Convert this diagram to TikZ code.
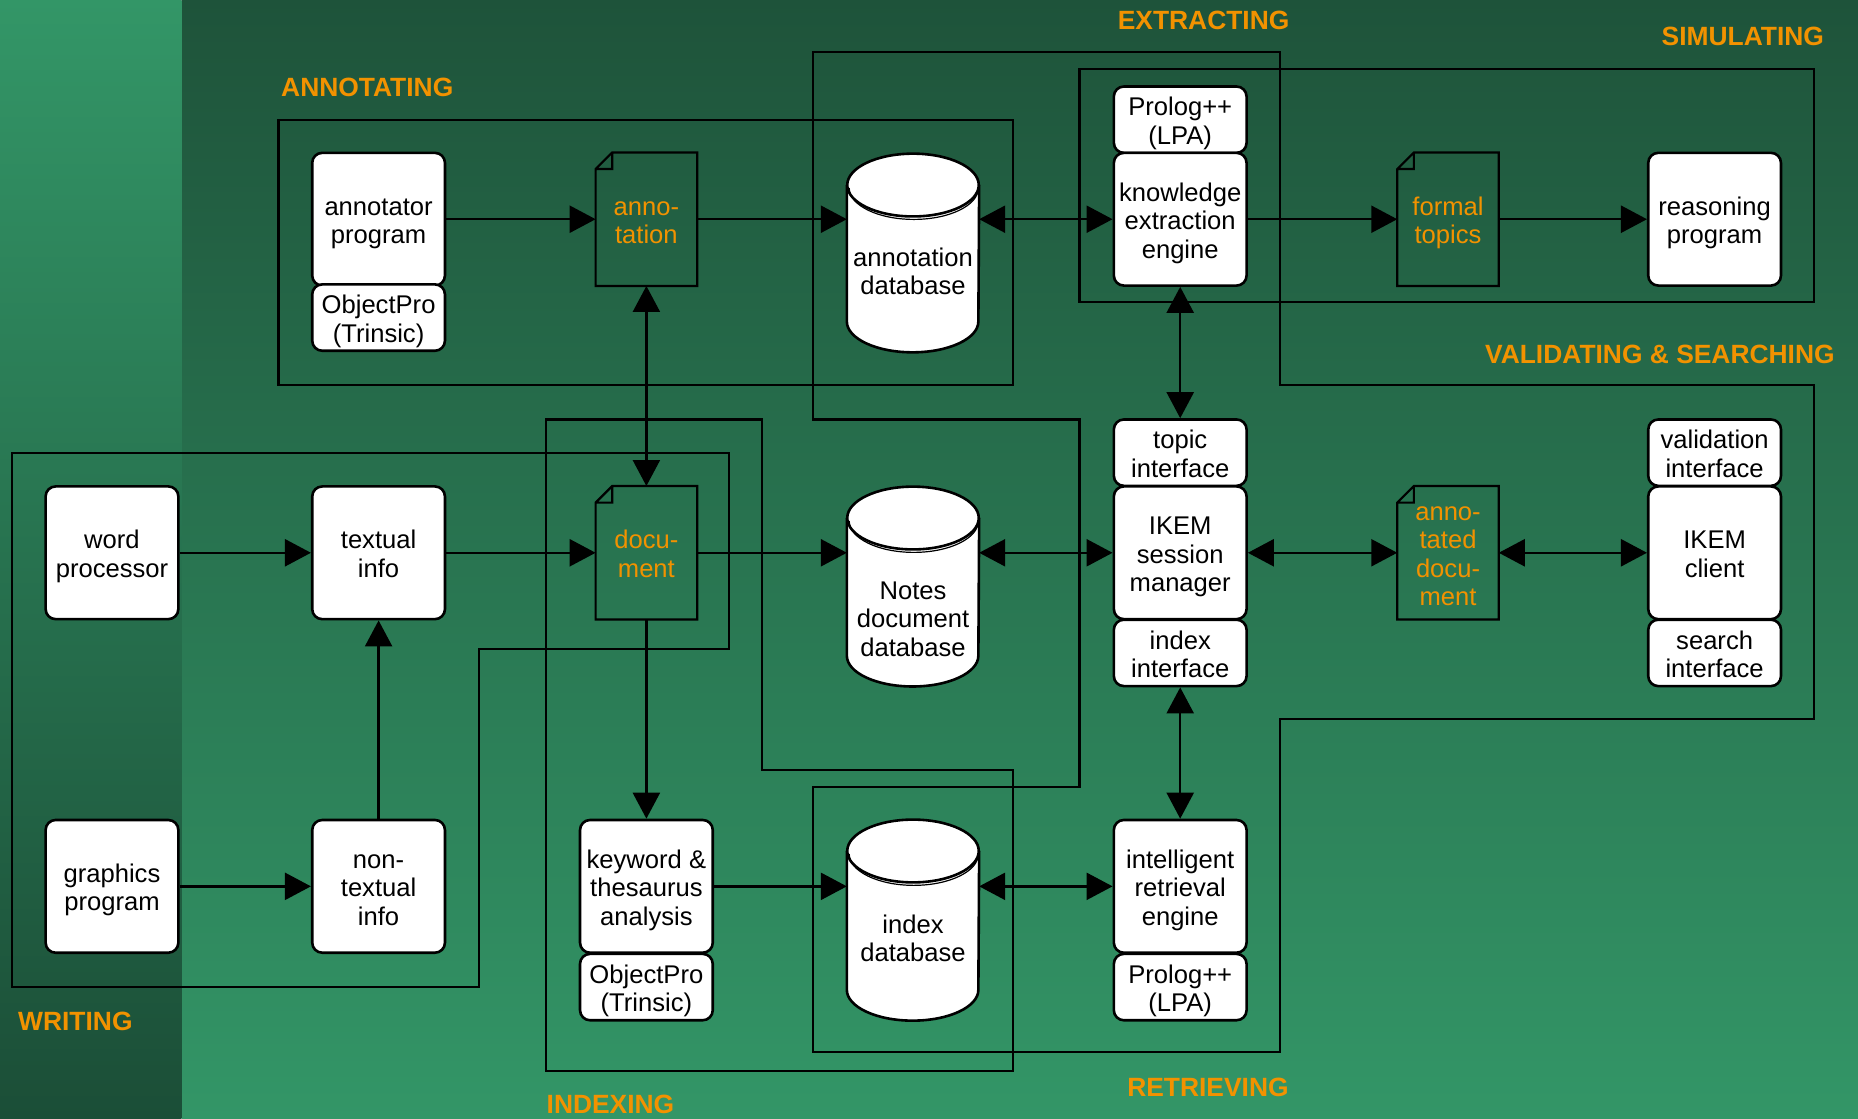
\documentclass[tikz,border=0pt]{standalone}
\usepackage{fontspec}
\setmainfont{Liberation Sans}
\usetikzlibrary{arrows.meta,calc}
\definecolor{bgdark}{RGB}{30,83,58}
\definecolor{bglight}{RGB}{51,150,103}
\definecolor{stripdark}{RGB}{27,78,55}
\definecolor{phaseorange}{RGB}{242,146,0}
\newcommand\pxu{0.5925pt}
\newcommand\bodyfont{\fontsize{12.8}{14.2}\selectfont}
\newcommand\fl{\rule{0pt}{10.4pt}}
\newcommand\drawcyl[1]{%
  \fill[white] ($(#1.north west)+(0,26.5)$) -- ($(#1.south west)+(0,-26)$)
     arc[start angle=180,end angle=0,x radius=55.5,y radius=26] -- ($(#1.north east)+(0,26.5)$) -- cycle;
  \draw[boxline] ($(#1.north west)+(0,26.5)$) -- ($(#1.south west)+(0,-26)$)
     arc[start angle=180,end angle=0,x radius=55.5,y radius=26] -- ($(#1.north east)+(0,26.5)$);
  \draw[boxline,fill=white] ($(#1.north)+(0,26.5)$) ellipse[x radius=55.5,y radius=26.5];
  \draw[line width=0.6pt] ($(#1.north west)+(2,29)$) arc[start angle=180,end angle=0,x radius=54.5,y radius=26.5];
}
\newcommand\drawdoc[1]{%
  \draw[docline] ($(#1.north west)+(0,14)$) -- ($(#1.north west)+(14,0)$) -- (#1.north east)
     -- (#1.south east) -- (#1.south west) -- cycle
     ($(#1.north west)+(0,14)$) -- ++(14,0) -- ++(0,-14);
}
\begin{document}
\begin{tikzpicture}[x=0.5925pt,y=-0.5925pt,
  boxline/.style={line width=1.3pt},
  docline/.style={line width=1.1pt,line join=miter},
  region/.style={line width=1.1pt},
  box/.style={draw,line width=1.3pt,fill=white,rounded corners=5pt,inner sep=0pt,
    minimum width=112*\pxu,minimum height=112*\pxu,align=center,font=\bodyfont,text depth=0pt},
  halfbox/.style={box,minimum height=56*\pxu},
  docbox/.style={inner sep=0pt,minimum width=85*\pxu,minimum height=112*\pxu,
    align=center,font=\bodyfont,text=phaseorange,text depth=0pt},
  cylbox/.style={inner sep=0pt,minimum width=111*\pxu},
  cyltext/.style={inner sep=0pt,align=center,font=\bodyfont},
  flow/.style={line width=1.2pt,-{Triangle[length=13pt,width=13.5pt]}},
  both/.style={line width=1.2pt,{Triangle[length=13pt,width=13.5pt]}-{Triangle[length=13pt,width=13.5pt]}},
  phase/.style={font=\fontsize{13.2}{14}\selectfont\bfseries,text=phaseorange,anchor=west,inner sep=0pt}]

\useasboundingbox (0,0) rectangle (1568,944);
% background
\shade[top color=bgdark,bottom color=bglight] (153,0) rectangle (1568,944);
\shade[top color=bglight,bottom color=stripdark] (0,0) rectangle (153,944);

% region outlines
\draw[region] (235,101) rectangle (855,325);
\draw[region] (911,58) rectangle (1531,255);
\draw[region] (686,44) -- (1080,44) -- (1080,325) -- (1531,325) -- (1531,607) -- (1080,607)
  -- (1080,888) -- (686,888) -- (686,664) -- (911,664) -- (911,354) -- (686,354) -- cycle;
\draw[region] (10,382) -- (615,382) -- (615,548) -- (404,548) -- (404,833) -- (10,833) -- cycle;
\draw[region] (461,354) -- (643,354) -- (643,650) -- (855,650) -- (855,904) -- (461,904) -- cycle;

% phase labels
\node[phase] (lann) at (237,74) {ANNOTATING};
\node[phase] (lext) at (943,17) {EXTRACTING};
\node[phase] (lsim) at (1402,31) {SIMULATING};
\node[phase] (lval) at (1253,299) {VALIDATING \& SEARCHING};
\node[phase] (lwri) at (15,862) {WRITING};
\node[phase] (lind) at (461,932) {INDEXING};
\node[phase] (lret) at (951,918) {RETRIEVING};

% row 1
\node[box] (ap) at (319.5,185) {\fl annotator\\program};
\node[halfbox] (ap2) at (319.5,268) {\fl ObjectPro\\(Trinsic)};
\node[docbox] (ann) at (545.5,185) {\fl anno-\\tation};
\node[cylbox,minimum height=167*\pxu] (adb) at (770.5,213.5) {};
\node[halfbox] (pl1) at (996,101) {\fl Prolog++\\(LPA)};
\node[box] (kee) at (996,185) {\fl knowledge\\extraction\\engine};
\node[docbox] (ft) at (1222,185) {\fl formal\\topics};
\node[box] (rp) at (1447,185) {\fl reasoning\\program};

% row 2
\node[box] (wp) at (94.5,466.5) {\fl word\\processor};
\node[box] (ti) at (319.5,466.5) {\fl textual\\info};
\node[docbox] (doc) at (545.5,466.5) {\fl docu-\\ment};
\node[cylbox,minimum height=168*\pxu] (ndb) at (770.5,495) {};
\node[halfbox] (tif) at (996,382) {\fl topic\\interface};
\node[box] (ism) at (996,466.5) {\fl IKEM\\session\\manager};
\node[halfbox] (iif) at (996,551) {\fl index\\interface};
\node[docbox] (adoc) at (1222,466.5) {\fl anno-\\tated\\docu-\\ment};
\node[halfbox] (vif) at (1447,382) {\fl validation\\interface};
\node[box] (ic) at (1447,466.5) {\fl IKEM\\client};
\node[halfbox] (sif) at (1447,551) {\fl search\\interface};

% row 3
\node[box] (gp) at (94.5,748) {\fl graphics\\program};
\node[box] (nti) at (319.5,748) {\fl non-\\textual\\info};
\node[box] (kta) at (545.5,748) {\fl keyword \&\\thesaurus\\analysis};
\node[halfbox] (op2) at (545.5,833) {\fl ObjectPro\\(Trinsic)};
\node[cylbox,minimum height=169*\pxu] (idb) at (770.5,776.5) {};
\node[box] (ire) at (996,748) {\fl intelligent\\retrieval\\engine};
\node[halfbox] (pl2) at (996,833) {\fl Prolog++\\(LPA)};

% shapes of documents and databases
\drawdoc{ann}
\drawdoc{ft}
\drawdoc{doc}
\drawdoc{adoc}
\drawcyl{adb}
\drawcyl{ndb}
\drawcyl{idb}
\node[cyltext] (adbt) at ($(adb.center)+(0,15.5)$) {annotation\\database};
\node[cyltext] (ndbt) at ($(ndb.center)+(0,27.5)$) {Notes\\document\\database};
\node[cyltext] (idbt) at ($(idb.center)+(0,15.5)$) {index\\database};

% connectors
\draw[flow] (ap) -- (ann);
\draw[flow] (ann) -- (ann -| adb.west);
\draw[both] (kee -| adb.east) -- (kee);
\draw[flow] (kee) -- (ft);
\draw[flow] (ft) -- (rp);
\draw[both] (ann) -- (doc);
\draw[both] (kee) -- (tif);
\draw[flow] (wp) -- (ti);
\draw[flow] (ti) -- (doc);
\draw[flow] (doc) -- (doc -| ndb.west);
\draw[both] (ism -| ndb.east) -- (ism);
\draw[both] (ism) -- (adoc);
\draw[both] (adoc) -- (ic);
\draw[flow] (nti) -- (ti);
\draw[flow] (gp) -- (nti);
\draw[flow] (doc) -- (kta);
\draw[flow] (kta) -- (kta -| idb.west);
\draw[both] (ire -| idb.east) -- (ire);
\draw[both] (iif) -- (ire);
\end{tikzpicture}
\end{document}
